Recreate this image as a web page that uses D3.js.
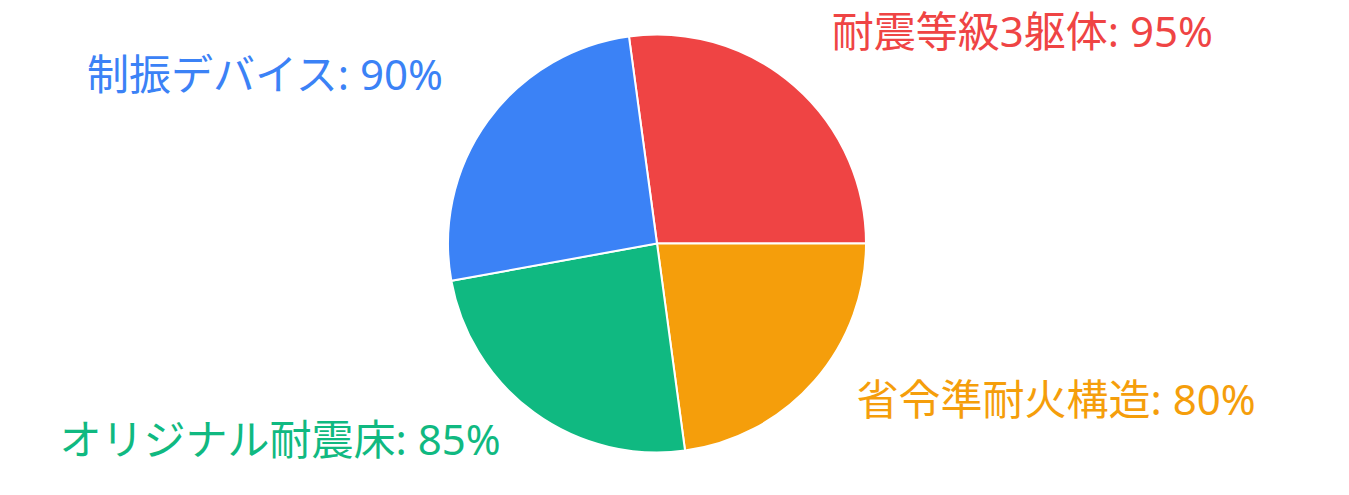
<!DOCTYPE html>
<html>
<head>
<meta charset="utf-8">
<script src="https://cdn.jsdelivr.net/npm/d3@7"></script>
<style>
  html, body { margin: 0; padding: 0; background: #fff; }
  svg text { font-family: "Noto Sans", "Noto Sans CJK JP", sans-serif; }
</style>
</head>
<body>
<div id="container"></div>
<script>
// Data
const labels = ["耐震等級3躯体", "省令準耐火構造", "オリジナル耐震床", "制振デバイス"];
const values = [95, 80, 85, 90];
const colors = ["#ef4444", "#f59e0b", "#10b981", "#3b82f6"];

const width = 1349,
  height = 495;
const cx = 657,
  cy = 243.5,
  radius = 209,
  labelRadius = 261;

const data = labels.map((name, i) => ({ name, value: values[i], color: colors[i] }));

const svg = d3
  .select("div#container")
  .append("svg")
  .attr("width", width)
  .attr("height", height);

const g = svg.append("g").attr("transform", `translate(${cx},${cy})`);

// first slice ends at 3 o'clock
const total = d3.sum(values);
const start = Math.PI / 2 - (values[0] / total) * 2 * Math.PI;

const pie = d3
  .pie()
  .value((d) => d.value)
  .sort(null)
  .startAngle(start)
  .endAngle(start + 2 * Math.PI);

const arc = d3.arc().innerRadius(0).outerRadius(radius);
const arcs = pie(data);

g.selectAll("path")
  .data(arcs)
  .enter()
  .append("path")
  .attr("d", arc)
  .attr("fill", (d) => d.data.color)
  .attr("stroke", "#fff")
  .attr("stroke-width", 2);

// Labels
g.selectAll("text")
  .data(arcs)
  .enter()
  .append("text")
  .attr("x", (d) => {
    const a = (d.startAngle + d.endAngle) / 2;
    const s = Math.sin(a);
    return labelRadius * s + (s >= 0 ? 3 : -3);
  })
  .attr("y", (d) => {
    const a = (d.startAngle + d.endAngle) / 2;
    return -labelRadius * Math.cos(a);
  })
  .attr("text-anchor", (d) => (Math.sin((d.startAngle + d.endAngle) / 2) >= 0 ? "start" : "end"))
  .attr("fill", (d) => d.data.color)
  .style("font-size", "42px")
  .text((d) => `${d.data.name}: ${d.data.value}%`);
</script>
</body>
</html>
